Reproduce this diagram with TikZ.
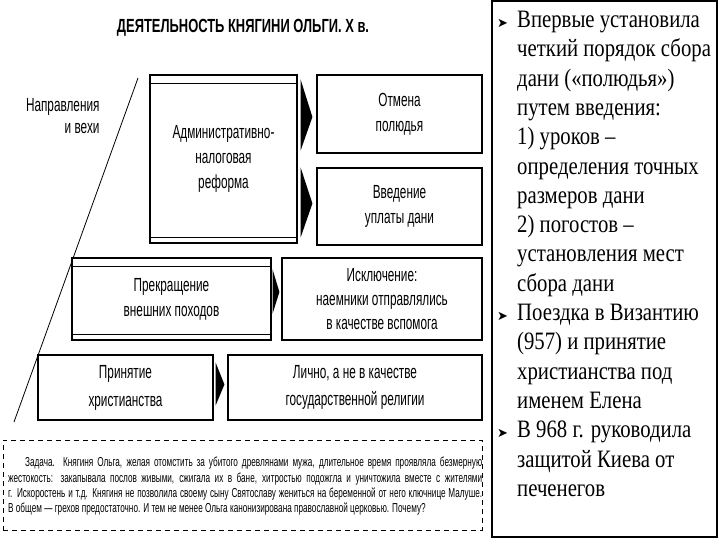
\documentclass[tikz,border=0pt]{standalone}
\usepackage{fontspec}
\setmainfont{Liberation Serif}
\newfontfamily\narrowsf[FakeStretch=0.62]{Liberation Sans}
\newfontfamily\titlesf[FakeStretch=0.68]{Liberation Sans}
\newfontfamily\tasksf[FakeStretch=0.63]{Liberation Sans}
\newfontfamily\panelrm[FakeStretch=0.83]{Liberation Serif}
\newfontfamily\dingfont{DejaVu Sans}
\usetikzlibrary{calc}

\newcommand\itemarrow{\makebox[20pt][l]{\dingfont\fontsize{13}{13}\selectfont ➤}}
\newcommand\itemgap{\hspace*{20pt}}

\begin{document}
\begin{tikzpicture}[x=1pt, y=-1pt,
    box/.style={rectangle, draw, line width=1.2pt, inner sep=0pt, align=center, font=\narrowsf\fontsize{19}{25}\selectfont},
    slab/.style={box, path picture={
        \draw[line width=0.9pt] ([yshift=-8pt]path picture bounding box.north west) -- ([yshift=-8pt]path picture bounding box.north east);
        \draw[line width=0.9pt] ([yshift=6pt]path picture bounding box.south west) -- ([yshift=6pt]path picture bounding box.south east);}},
    taskbox/.style={rectangle, draw, dashed, dash pattern=on 5pt off 4pt, line width=0.8pt, inner sep=0pt},
    panel/.style={rectangle, draw, line width=1.2pt, inner sep=0pt}]

    \useasboundingbox[fill=white] (0,0) rectangle (720,540);

    % title and left caption
    \node[font=\titlesf\bfseries\fontsize{19}{22}\selectfont] (title) at (243,28) {ДЕЯТЕЛЬНОСТЬ КНЯГИНИ ОЛЬГИ. Х в.};
    \node[anchor=east, align=right, font=\narrowsf\fontsize{19}{22}\selectfont] (caption) at (103,116) {Направления\\и вехи};
    \draw[line width=0.8pt] (138,78) -- (14,422);

    % directions
    \node[slab, minimum width=147pt, minimum height=168pt] (adm) at (223.5,159) {Административно-\\налоговая\\реформа};
    \node[box, minimum width=165pt, minimum height=78pt] (otm) at (399.5,114) {Отмена\\полюдья};
    \node[box, minimum width=165pt, minimum height=77pt] (vved) at (399.5,206.5) {Введение\\уплаты дани};

    \node[slab, minimum width=199pt, minimum height=82pt] (prek) at (171.5,299) {Прекращение\\внешних походов};
    \node[box, minimum width=200pt, minimum height=82pt, font=\narrowsf\fontsize{19}{24}\selectfont] (iskl) at (382,299) {Исключение:\\наемники отправлялись\\в качестве вспомога};

    \node[box, minimum width=175pt, minimum height=65pt, font=\narrowsf\fontsize{19}{28}\selectfont] (prin) at (125.5,387.5) {Принятие\\христианства};
    \node[box, minimum width=254pt, minimum height=65pt, font=\narrowsf\fontsize{19}{27}\selectfont] (lich) at (355,387.5) {Лично, а не в качестве\\государственной религии};

    % pointers
    \fill ($(adm.east |- otm.north)+(3,5)$) -- ($(otm.west)+(-4,3)$) -- ($(adm.east |- otm.south)+(3,-3)$) -- cycle;
    \fill ($(adm.east |- vved.north)+(3,0)$) -- ($(vved.west)+(-4,-3)$) -- ($(adm.east |- vved.south)+(3,-8)$) -- cycle;
    \fill ($(prek.east |- iskl.north)+(1,12)$) -- ($(iskl.west)+(-2,-7)$) -- ($(prek.east |- iskl.south)+(1,-27)$) -- cycle;
    \fill ($(prin.east |- lich.north)+(2,8)$) -- ($(lich.west)+(-3,-3)$) -- ($(prin.east |- lich.south)+(2,-15)$) -- cycle;

    % task
    \node[taskbox, minimum width=479pt, minimum height=90pt] (task) at (242.5,485) {};
    \node[anchor=north west, inner sep=0pt, align=left, font=\tasksf\fontsize{13}{15.3}\selectfont] (tasktext) at (8,457) {%
        \makebox[474pt][s]{\hspace*{17pt}Задача. Княгиня Ольга, желая отомстить за убитого древлянами мужа, длительное время проявляла безмерную}\\
        \makebox[474pt][s]{жестокость: закапывала послов живыми, сжигала их в бане, хитростью подожгла и уничтожила вместе с жителями}\\
        \makebox[474pt][s]{г. Искоростень и т.д. Княгиня не позволила своему сыну Святославу жениться на беременной от него ключнице Малуше.}\\
        В общем — грехов предостаточно. И тем не менее Ольга канонизирована православной церковью. Почему?};

    % right panel
    \node[panel, minimum width=225pt, minimum height=536pt] (facts) at (604.5,269) {};
    \node[anchor=north west, inner sep=0pt, align=left, font=\panelrm\fontsize{25}{29.3}\selectfont] (factstext) at (497,11) {%
        \itemarrow Впервые установила\\
        \itemgap четкий порядок сбора\\
        \itemgap дани («полюдья»)\\
        \itemgap путем введения:\\
        \itemgap 1) уроков –\\
        \itemgap определения точных\\
        \itemgap размеров дани\\
        \itemgap 2) погостов –\\
        \itemgap установления мест\\
        \itemgap сбора дани\\
        \itemarrow Поездка в Византию\\
        \itemgap (957) и принятие\\
        \itemgap христианства под\\
        \itemgap именем Елена\\
        \itemarrow В 968 г. руководила\\
        \itemgap защитой Киева от\\
        \itemgap печенегов};
\end{tikzpicture}
\end{document}
